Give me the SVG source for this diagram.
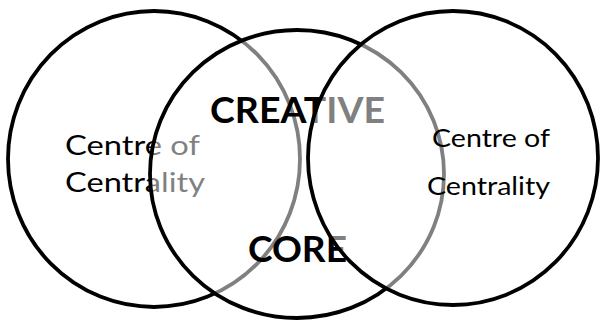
<svg xmlns="http://www.w3.org/2000/svg" width="600" height="324" viewBox="0 0 600 324">
<style>
.ring{stroke:#000;stroke-width:3.8}
.veil{fill:#fff;fill-opacity:0.5}
.lbl{font-family:Lato,"Liberation Sans",sans-serif;fill:#000}
.big{font-family:Lato,"Liberation Sans",sans-serif;font-weight:bold;fill:#000}
</style>
<rect width="600" height="324" fill="#fff"/>
<g id="left">
<ellipse class="ring" cx="154" cy="159" rx="146" ry="148" fill="#fff"/>
<text class="lbl" x="65" y="155" font-size="26" textLength="135" lengthAdjust="spacingAndGlyphs">Centre of</text>
<text class="lbl" x="65" y="192" font-size="26" textLength="140" lengthAdjust="spacingAndGlyphs">Centrality</text>
</g>
<g id="core">
<ellipse class="ring veil" cx="297" cy="174" rx="147" ry="144"/>
<text class="big" x="210" y="123" font-size="36" textLength="175" lengthAdjust="spacingAndGlyphs">CREATIVE</text>
<text class="big" x="248" y="262" font-size="36" textLength="99" lengthAdjust="spacingAndGlyphs">CORE</text>
</g>
<g id="right">
<ellipse class="ring veil" cx="453" cy="158" rx="145" ry="147"/>
<text class="lbl" x="432" y="147" font-size="25" textLength="118" lengthAdjust="spacingAndGlyphs">Centre of</text>
<text class="lbl" x="427" y="195" font-size="25" textLength="123" lengthAdjust="spacingAndGlyphs">Centrality</text>
</g>
<g id="connectors"></g>
</svg>
